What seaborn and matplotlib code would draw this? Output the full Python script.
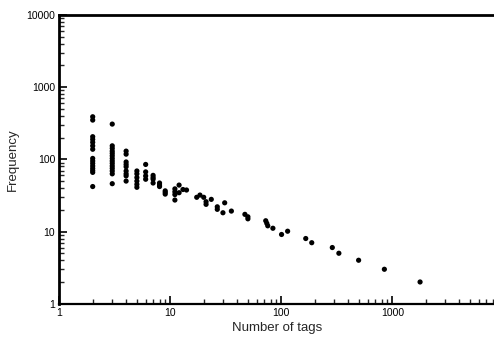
import matplotlib
matplotlib.use("Agg")
import matplotlib.pyplot as plt
import matplotlib.ticker as mticker
import seaborn as sns
import pandas as pd

# Data (number of tags vs frequency)
tags_x = ([2] * 15 + [3] * 14 + [4] * 9 + [5] * 6 + [6] * 4 + [7] * 4 + [8] * 3 + [9] * 3
          + [11] * 4 + [12] * 2 + [13, 14, 17.3, 18.5, 20] + [21] * 2 + [23.4] + [26.5] * 2
          + [30.9, 29.8, 35.5, 47] + [50] * 2 + [72.4, 74, 75.5, 84, 100.5, 114, 166, 188,
                                                 288, 330, 497, 848, 1778])
freq_y = ([389, 350, 206, 189, 172, 154, 138, 103, 95, 88, 81, 75, 70, 66, 42]
          + [308, 154, 142, 130, 121, 112, 103, 95, 88, 81, 75, 69, 63, 46]
          + [130, 118, 92, 85, 79, 69, 63, 59, 50]
          + [69, 63, 56, 50, 45, 41]
          + [85, 67, 59, 53]
          + [60, 56, 53, 47]
          + [47, 44, 42]
          + [36.6, 34.8, 33]
          + [39, 35.5, 32.5, 27.3]
          + [44, 34.5]
          + [38.2, 37.6, 29.8, 32, 29.8]
          + [25.9, 23.8]
          + [27.9]
          + [22, 20.3]
          + [25, 18.2, 19.2, 17.3]
          + [16, 15]
          + [14.1, 13, 12, 11.1, 9.1, 10.1, 8, 7, 6, 5, 4, 3, 2])

x_ticks = [1, 10, 100, 1000]
x_tick_labels = ["1", "10", "100", "1000"]
y_ticks = [1, 10, 100, 1000, 10000]
y_tick_labels = ["1", "10", "100", "1000", "10000"]

df = pd.DataFrame({"Number of tags": tags_x, "Frequency": freq_y})

sns.set_style("ticks")
plt.rcParams["font.family"] = ["Liberation Sans", "DejaVu Sans"]

fig = plt.figure(figsize=(4.94, 3.37), dpi=100)
ax = fig.add_axes([0.12, 0.0988, 0.88, 0.8567])

sns.scatterplot(data=df, x="Number of tags", y="Frequency", ax=ax,
                color="black", s=14, edgecolor="none", linewidth=0)

ax.set_xscale("log")
ax.set_yscale("log")
ax.set_xlim(1, 8240)
ax.set_ylim(1, 10000)

ax.set_xticks(x_ticks)
ax.set_xticklabels(x_tick_labels)
ax.set_yticks(y_ticks)
ax.set_yticklabels(y_tick_labels)
ax.xaxis.set_minor_locator(mticker.LogLocator(base=10, subs=range(2, 10), numticks=20))
ax.yaxis.set_minor_locator(mticker.LogLocator(base=10, subs=range(2, 10), numticks=20))
ax.xaxis.set_minor_formatter(mticker.NullFormatter())
ax.yaxis.set_minor_formatter(mticker.NullFormatter())

ax.tick_params(axis="both", which="major", direction="in", length=6, width=1.2,
               labelsize=7.5, colors="black", pad=3)
ax.tick_params(axis="both", which="minor", direction="in", length=3.5, width=1.0)
ax.tick_params(top=False, right=False, which="both")

ax.spines["right"].set_visible(False)
for side in ["left", "top"]:
    ax.spines[side].set_linewidth(2.0)
    ax.spines[side].set_color("black")
ax.spines["bottom"].set_linewidth(1.6)
ax.spines["bottom"].set_color("black")

ax.set_xlabel("Number of tags", fontsize=9.5, labelpad=3)
ax.set_ylabel("Frequency", fontsize=9.5, labelpad=5)

fig.savefig("out.png", dpi=100)
